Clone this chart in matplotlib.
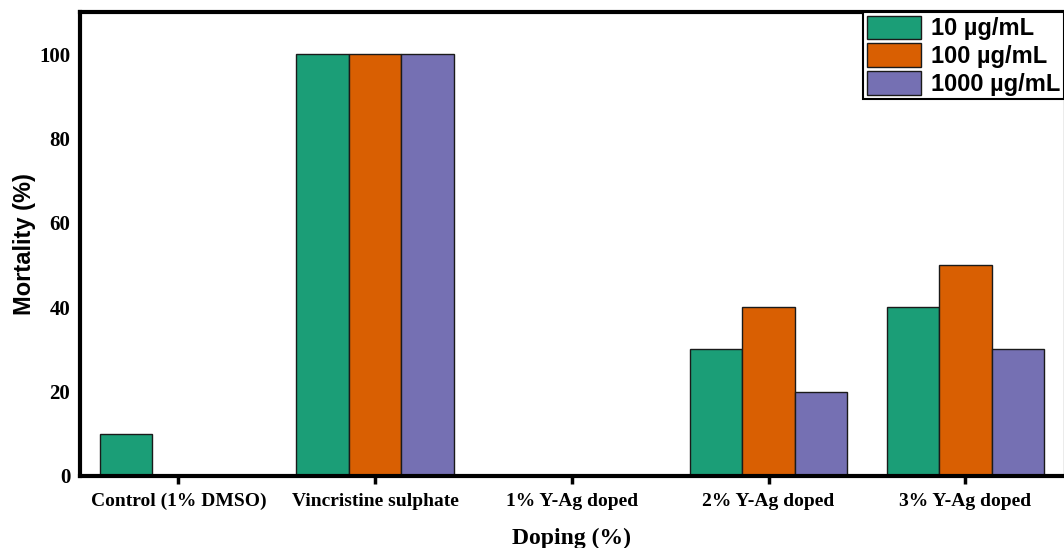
import numpy as np
import matplotlib.pyplot as plt

categories = ['Control (1% DMSO)', 'Vincristine sulphate', '1% Y-Ag doped',
              '2% Y-Ag doped', '3% Y-Ag doped']
dose_labels = ['10 µg/mL', '100 µg/mL', '1000 µg/mL']
mort_10 = [10, 100, 0, 30, 40]
mort_100 = [0, 100, 0, 40, 50]
mort_1000 = [0, 100, 0, 20, 30]
colors = ['#1b9e77', '#d95f02', '#7570b3']

serif = ['Liberation Serif', 'DejaVu Serif']
sans = ['Liberation Sans', 'DejaVu Sans']

fig = plt.figure(figsize=(10.64, 5.48), dpi=100)
ax = fig.add_axes([0.0752, 0.1314, 0.9245, 0.8467])

x = np.arange(len(categories))
w = 0.8 / 3
series = [mort_10, mort_100, mort_1000]
for i, (vals, c, lab) in enumerate(zip(series, colors, dose_labels)):
    ax.bar(x + (i - 1) * w, vals, width=w, color=c, edgecolor='#1a1a1a',
           linewidth=1.0, label=lab, zorder=2)

ax.set_xlim(-0.5, 4.5)
ax.set_ylim(0, 110)
ax.set_xticks(x)
ax.set_xticklabels(categories, family=serif, fontweight='bold', fontsize=14)
ax.set_yticks(np.arange(0, 101, 20))
ax.set_yticklabels([str(v) for v in range(0, 101, 20)], family=serif,
                   fontweight='bold', fontsize=15)
ax.tick_params(axis='x', length=6, width=2.5, pad=6)
ax.tick_params(axis='y', length=0, pad=7)

for side in ['left', 'bottom', 'top']:
    ax.spines[side].set_linewidth(3)
ax.spines['right'].set_linewidth(1)
ax.spines['right'].set_color('#999999')

ax.set_ylabel('Mortality (%)', family=sans, fontweight='bold', fontsize=17, labelpad=2)
ax.set_xlabel('Doping (%)', family=serif, fontweight='bold', fontsize=17, labelpad=13)

leg = ax.legend(loc='upper right', bbox_to_anchor=(1.0, 1.0), borderaxespad=0,
                prop={'family': sans, 'weight': 'bold', 'size': 17},
                handlelength=2.3, handleheight=1.15, labelspacing=0.13,
                handletextpad=0.4, borderpad=0.15, fancybox=False, framealpha=1)
leg.get_frame().set_edgecolor('black')
leg.get_frame().set_linewidth(1.5)

fig.savefig('out.png', dpi=100)
